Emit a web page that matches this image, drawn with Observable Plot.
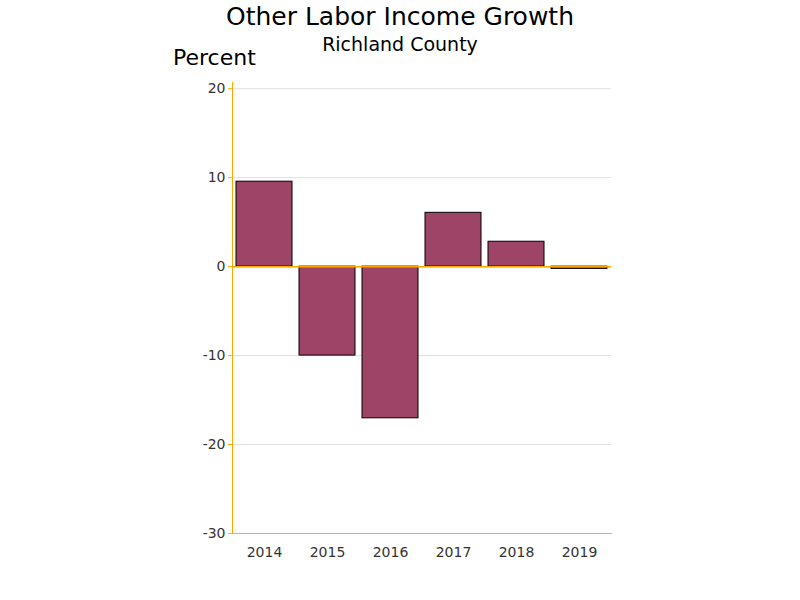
<!DOCTYPE html>
<html>
<head>
<meta charset="utf-8">
<script src="https://cdn.jsdelivr.net/npm/d3@7"></script>
<script src="https://cdn.jsdelivr.net/npm/@observablehq/plot@0.6"></script>
<style>
  body { margin: 0; background: #fff; font-family: "DejaVu Sans", sans-serif; }
  #wrap { position: relative; width: 800px; height: 600px; }
  .t { position: absolute; color: #000; white-space: nowrap; }
  #title { left: 0; width: 800px; text-align: center; top: 2px; font-size: 25px; }
  #subtitle { left: 0; width: 800px; text-align: center; top: 33px; font-size: 19px; }
  #ylabel { left: 173px; top: 45px; font-size: 22px; }
</style>
</head>
<body>
<div id="wrap">
  <div id="chart"></div>
  <div class="t" id="title">Other Labor Income Growth</div>
  <div class="t" id="subtitle">Richland County</div>
  <div class="t" id="ylabel">Percent</div>
</div>
<script>
const years = ["2014", "2015", "2016", "2017", "2018", "2019"];
const growth = [9.55, -10.0, -17.05, 6.05, 2.8, -0.25];
const yTicks = [-30, -20, -10, 0, 10, 20];

const data = years.map((y, i) => ({year: y, value: growth[i]}));
const axisColor = "#FFA500";

const chart = Plot.plot({
  width: 800,
  height: 600,
  marginLeft: 232,
  marginRight: 189,
  marginTop: 82,
  marginBottom: 67,
  style: {fontFamily: "DejaVu Sans, sans-serif", fontSize: "14px", color: "#333", background: "transparent"},
  x: {domain: years, paddingInner: 0.11, paddingOuter: 0.06, label: null},
  y: {domain: [-30, 20.7], ticks: yTicks, label: null},
  marks: [
    Plot.gridY(yTicks, {stroke: "#e0e0e0", strokeOpacity: 1}),
    Plot.barY(data, {x: "year", y: "value", fill: "#9E4466", stroke: "#000", strokeWidth: 1}),
    Plot.ruleY([0], {stroke: axisColor, strokeWidth: 1.5}),
    Plot.frame({anchor: "bottom", stroke: axisColor, strokeOpacity: 0.8}),
    Plot.frame({anchor: "left", stroke: axisColor}),
    Plot.axisY({ticks: yTicks, tickSize: 4, stroke: axisColor, strokeOpacity: 1, tickPadding: 3, fill: "#333", fontSize: 14, tickFormat: d => String(d)}),
    Plot.axisX({tickSize: 0, tickPadding: 14, fill: "#333", fontSize: 14})
  ]
});
document.getElementById("chart").appendChild(chart);
</script>
</body>
</html>
